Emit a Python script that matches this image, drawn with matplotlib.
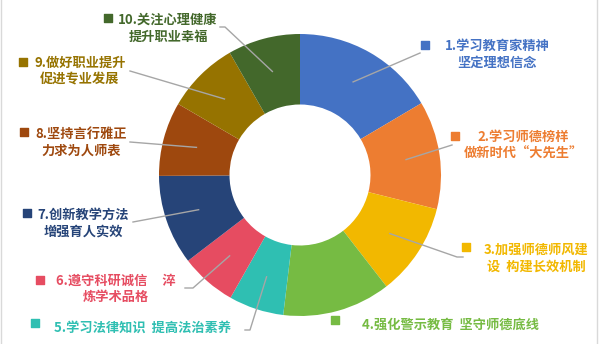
import numpy as np
import matplotlib
matplotlib.use("Agg")
import matplotlib.pyplot as plt

plt.rcParams['font.family'] = ['Noto Sans CJK SC', 'DejaVu Sans']

# data (share of the ring, in %)
labels = [
    "1.学习教育家精神\n坚定理想信念",
    "2.学习师德榜样\n做新时代“大先生”",
    "3.加强师德师风建\n设  构建长效机制",
    "4.强化警示教育  坚守师德底线",
    "5.学习法律知识  提高法治素养",
    "6.遵守科研诚信     淬\n炼学术品格",
    "7.创新教学方法\n增强育人实效",
    "8.坚持言行雅正\n力求为人师表",
    "9.做好职业提升\n促进专业发展",
    "10.关注心理健康\n提升职业幸福",
]
values = [16.5, 12.4, 10.6, 12.4, 6.3, 6.4, 10.3, 8.5, 8.3, 8.3]
colors = ["#4472C4", "#ED7D31", "#F2B800", "#76BB43", "#2FBFB2",
          "#E64C61", "#264478", "#9E480E", "#967300", "#43682B"]

# label layout (pixels, y up): text centre, legend square, leader end points
text_pos = [(497, 290), (523, 199), (536, 86), (450, 19), (143, 16),
            (116, 55), (83, 121), (81, 202), (80, 273), (168, 316)]
marker_pos = [(425, 299), (455, 208), (466, 97), (335, 24), (35, 21),
              (40, 64), (27, 131), (24, 212), (23, 282), (108, 326)]
leader_ends = [[(420, 291)], [(452, 199)], [(457, 87), (463, 87)], [],
               [(250, 14), (245, 14)], [(193, 56), (185, 56)],
               [(133, 122)], [(130, 202)], [(130, 273)],
               [(225, 317), (220, 317)]]

W, H = 602, 344
cx, cy, R = 300, 169, 141

fig = plt.figure(figsize=(W / 100, H / 100), dpi=100)
ax = fig.add_axes([0, 0, 1, 1])

wedges, _ = ax.pie(values, colors=colors, startangle=90, counterclock=False,
                   center=(cx, cy), radius=R, frame=True,
                   wedgeprops=dict(width=R * 0.5, linewidth=0))

for i, w in enumerate(wedges):
    mid = np.deg2rad((w.theta1 + w.theta2) / 2)
    start = (cx + 0.76 * R * np.cos(mid), cy + 0.76 * R * np.sin(mid))
    if leader_ends[i]:
        pts = [start] + leader_ends[i]
        ax.plot([p[0] for p in pts], [p[1] for p in pts], color="#A6A6A6", lw=1)
    ax.scatter(*marker_pos[i], marker='s', s=28, color=colors[i], zorder=5)
    ax.text(*text_pos[i], labels[i], ha='center', va='center',
            multialignment='center', fontsize=9.5, fontweight='bold',
            color=colors[i], linespacing=1.25)

# thin chart-area border on the sides
ax.axvline(1, color="#D9D9D9", lw=1)
ax.axvline(W - 5, color="#D9D9D9", lw=1)

ax.set_xlim(0, W)
ax.set_ylim(0, H)
ax.set_aspect('equal')
ax.axis('off')

fig.savefig("out.png", dpi=100)
